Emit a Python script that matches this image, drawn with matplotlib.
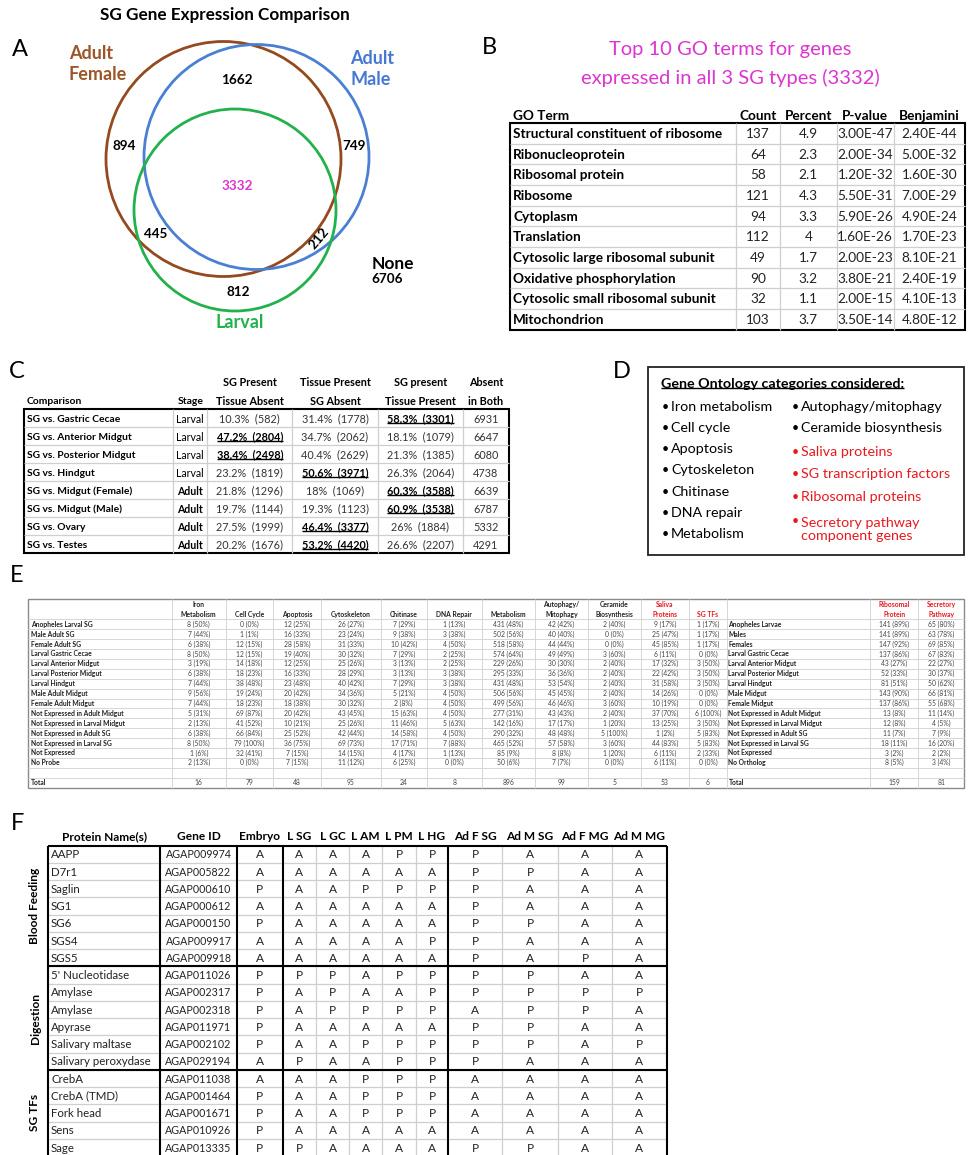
import matplotlib
matplotlib.use("Agg")
import matplotlib.pyplot as plt
from matplotlib.patches import Circle, Rectangle

plt.rcParams['font.family'] = ['Lato', 'DejaVu Sans']

# ---------------- data ----------------
# Panel A: Venn of genes expressed in salivary glands
venn_names = ["Adult\nFemale", "Adult\nMale", "Larval"]
venn_only_female = 894
venn_only_male = 749
venn_only_larval = 812
venn_female_male = 1662
venn_female_larval = 445
venn_male_larval = 212
venn_all = 3332
venn_none = 6706

# Panel B: GO terms
go_terms = ["Structural constituent of ribosome", "Ribonucleoprotein", "Ribosomal protein",
            "Ribosome", "Cytoplasm", "Translation", "Cytosolic large ribosomal subunit",
            "Oxidative phosphorylation", "Cytosolic small ribosomal subunit", "Mitochondrion"]
go_count = [137, 64, 58, 121, 94, 112, 49, 90, 32, 103]
go_percent = [4.9, 2.3, 2.1, 4.3, 3.3, 4, 1.7, 3.2, 1.1, 3.7]
go_pvalue = [3.0e-47, 2.0e-34, 1.2e-32, 5.5e-31, 5.9e-26, 1.6e-26, 2.0e-23, 3.8e-21, 2.0e-15, 3.5e-14]
go_benjamini = [2.4e-44, 5.0e-32, 1.6e-30, 7.0e-29, 4.9e-24, 1.7e-23, 8.1e-21, 2.4e-19, 4.1e-13, 4.8e-12]

# Panel C: tissue comparisons
cmp_names = ["SG vs. Gastric Cecae", "SG vs. Anterior Midgut", "SG vs. Posterior Midgut",
             "SG vs. Hindgut", "SG vs. Midgut (Female)", "SG vs. Midgut (Male)",
             "SG vs. Ovary", "SG vs. Testes"]
cmp_stage = ["Larval", "Larval", "Larval", "Larval", "Adult", "Adult", "Adult", "Adult"]
sg_only_pct = [10.3, 47.2, 38.4, 23.2, 21.8, 19.7, 27.5, 20.2]
sg_only_n = [582, 2804, 2498, 1819, 1296, 1144, 1999, 1676]
tissue_only_pct = [31.4, 34.7, 40.4, 50.6, 18, 19.3, 46.4, 53.2]
tissue_only_n = [1778, 2062, 2629, 3971, 1069, 1123, 3377, 4420]
both_pct = [58.3, 18.1, 21.3, 26.3, 60.3, 60.9, 26, 26.6]
both_n = [3301, 1079, 1385, 2064, 3588, 3538, 1884, 2207]
absent_both = [6931, 6647, 6080, 4738, 6639, 6787, 5332, 4291]
cmp_emphasis = [2, 0, 0, 1, 2, 2, 1, 1]

# Panel D: GO categories
go_cats_left = ["Iron metabolism", "Cell cycle", "Apoptosis", "Cytoskeleton",
                "Chitinase", "DNA repair", "Metabolism"]
go_cats_right = ["Autophagy/mitophagy", "Ceramide biosynthesis", "Saliva proteins",
                 "SG transcription factors", "Ribosomal proteins",
                 "Secretory pathway\ncomponent genes"]
go_cats_right_red = [False, False, True, True, True, True]

# Panel E: category counts (count, percent)
e_rows = ["Anopheles Larval SG", "Male Adult SG", "Female Adult SG", "Larval Gastric Cecae",
          "Larval Anterior Midgut", "Larval Posterior Midgut", "Larval Hindgut",
          "Male Adult Midgut", "Female Adult Midgut", "Not Expressed in Adult Midgut",
          "Not Expressed in Larval Midgut", "Not Expressed in Adult SG",
          "Not Expressed in Larval SG", "Not Expressed", "No Probe"]
e_rows2 = ["Anopheles Larvae", "Males", "Females", "Larval Gastric Cecae",
           "Larval Anterior Midgut", "Larval Posterior Midgut", "Larval Hindgut",
           "Male Midgut", "Female Midgut", "Not Expressed in Adult Midgut",
           "Not Expressed in Larval Midgut", "Not Expressed in Adult SG",
           "Not Expressed in Larval SG", "Not Expressed", "No Ortholog"]
iron = [(8, 50), (7, 44), (6, 38), (8, 50), (3, 19), (6, 38), (7, 44), (9, 56), (7, 44),
        (5, 31), (2, 13), (6, 38), (8, 50), (1, 6), (2, 13)]
cell_cycle = [(0, 0), (1, 1), (12, 15), (12, 15), (14, 18), (18, 23), (38, 48), (19, 24),
              (18, 23), (69, 87), (41, 52), (66, 84), (79, 100), (32, 41), (0, 0)]
apoptosis = [(12, 25), (16, 33), (28, 58), (19, 40), (12, 25), (16, 33), (23, 48), (20, 42),
             (18, 38), (20, 42), (10, 21), (25, 52), (36, 75), (7, 15), (7, 15)]
cytoskeleton = [(26, 27), (23, 24), (31, 33), (30, 32), (25, 26), (28, 29), (40, 42), (34, 36),
                (30, 32), (43, 45), (25, 26), (42, 44), (69, 73), (14, 15), (11, 12)]
chitinase = [(7, 29), (9, 38), (10, 42), (7, 29), (3, 13), (3, 13), (7, 29), (5, 21), (2, 8),
             (15, 63), (11, 46), (14, 58), (17, 71), (4, 17), (6, 25)]
dna_repair = [(1, 13), (3, 38), (4, 50), (2, 25), (2, 25), (3, 38), (3, 38), (4, 50), (4, 50),
              (4, 50), (5, 63), (4, 50), (7, 88), (1, 13), (0, 0)]
metabolism = [(431, 48), (502, 56), (518, 58), (574, 64), (229, 26), (295, 33), (431, 48),
              (506, 56), (499, 56), (277, 31), (142, 16), (290, 32), (465, 52), (85, 9), (50, 6)]
autophagy = [(42, 42), (40, 40), (44, 44), (49, 49), (30, 30), (36, 36), (53, 54), (45, 45),
             (46, 46), (43, 43), (17, 17), (48, 48), (57, 58), (8, 8), (7, 7)]
ceramide = [(2, 40), (0, 0), (0, 0), (3, 60), (2, 40), (2, 40), (2, 40), (2, 40), (3, 60),
            (2, 40), (1, 20), (5, 100), (3, 60), (1, 20), (0, 0)]
saliva = [(9, 17), (25, 47), (45, 85), (6, 11), (17, 32), (22, 42), (31, 58), (14, 26), (10, 19),
          (37, 70), (13, 25), (1, 2), (44, 83), (6, 11), (6, 11)]
sg_tfs = [(1, 17), (1, 17), (1, 17), (0, 0), (3, 50), (3, 50), (3, 50), (0, 0), (0, 0),
          (6, 100), (3, 50), (5, 83), (5, 83), (2, 33), (0, 0)]
ribosomal = [(141, 89), (141, 89), (147, 92), (137, 86), (43, 27), (52, 33), (81, 51), (143, 90),
             (137, 86), (13, 8), (12, 8), (11, 7), (18, 11), (3, 2), (8, 5)]
secretory = [(65, 80), (63, 78), (69, 85), (67, 83), (22, 27), (30, 37), (50, 62), (66, 81),
             (55, 68), (11, 14), (4, 5), (7, 9), (16, 20), (2, 2), (3, 4)]
e_totals_left = [16, 79, 48, 95, 24, 8, 896, 99, 5, 53, 6]
e_totals_right = [159, 81]
e_heads_left = ["Iron\nMetabolism", "Cell Cycle", "Apoptosis", "Cytoskeleton", "Chitinase",
                "DNA Repair", "Metabolism", "Autophagy/\nMitophagy", "Ceramide\nBiosynthesis",
                "Saliva\nProteins", "SG TFs"]
e_heads_right = ["Ribosomal\nProtein", "Secretory\nPathway"]

# Panel F: presence (P) / absence (A)
f_proteins = ["AAPP", "D7r1", "Saglin", "SG1", "SG6", "SGS4", "SGS5", "5' Nucleotidase",
              "Amylase", "Amylase", "Apyrase", "Salivary maltase", "Salivary peroxydase",
              "CrebA", "CrebA (TMD)", "Fork head", "Sens", "Sage"]
f_gene_ids = ["AGAP009974", "AGAP005822", "AGAP000610", "AGAP000612", "AGAP000150",
              "AGAP009917", "AGAP009918", "AGAP011026", "AGAP002317", "AGAP002318",
              "AGAP011971", "AGAP002102", "AGAP029194", "AGAP011038", "AGAP001464",
              "AGAP001671", "AGAP010926", "AGAP013335"]
f_groups = [("Blood Feeding", 7), ("Digestion", 6), ("SG TFs", 5)]
f_samples = ["Embryo", "L SG", "L GC", "L AM", "L PM", "L HG",
             "Ad F SG", "Ad M SG", "Ad F MG", "Ad M MG"]
f_embryo = "AAPAPAAPPPPPAAPPPP"
f_lsg = "AAAAAAAPAAAAPAAAAP"
f_lgc = "AAAAAAAPPPAAAAAAAA"
f_lam = "AAPAAAAAAPAPAPPPAA"
f_lpm = "PAPAAAAPAPAPPPPPAA"
f_lhg = "PAPAAPAPPPAPPPPPAA"
f_adfsg = "PPPPPPPPPAPPPAAAAP"
f_admsg = "APAAPAAPPPPPAAAAAP"
f_adfmg = "AAAAAAPAPPAAAAAAAA"
f_admmg = "AAAAAAAAPAAPAAAAAA"

# ---------------- canvas ----------------
W, H = 968, 1155
fig = plt.figure(figsize=(W / 100, H / 100), dpi=100)
ax = fig.add_axes([0, 0, 1, 1])
ax.set_xlim(0, W)
ax.set_ylim(H, 0)
ax.axis('off')

GRID = "#CFCFCF"
RED = "#E8191E"
MAGENTA = "#DD35CF"


def put(x, y, s, size, weight='normal', color='black', ha='center', va='center', **kw):
    return ax.text(x, y, s, fontsize=size, fontweight=weight, color=color,
                   ha=ha, va=va, **kw)


def underline(t, lw=1.0, pad=1.0):
    r = fig.canvas.get_renderer()
    bb = t.get_window_extent(r)
    inv = ax.transData.inverted()
    (x0, yb), (x1, _) = inv.transform([[bb.x0, bb.y0], [bb.x1, bb.y1]])
    ax.plot([x0, x1], [yb - pad, yb - pad], color=t.get_color(), lw=lw,
            solid_capstyle='butt')


def hline(y, x0, x1, color, lw):
    ax.plot([x0, x1], [y, y], color=color, lw=lw, solid_capstyle='butt')


def vline(x, y0, y1, color, lw):
    ax.plot([x, x], [y0, y1], color=color, lw=lw, solid_capstyle='butt')


def panel_letter(x, y, s):
    put(x, y, s, 17)


# ---------------- Panel A ----------------
panel_letter(20, 49, "A")
put(225, 15, "SG Gene Expression Comparison", 12.3, 'bold')
venn_colors = ["#94491E", "#4A7FD4", "#22B14C"]
venn_text_colors = ["#9B5528", "#4678D2", "#22B14C"]
circle_specs = [((223.5, 159), 117.5), ((256.5, 157), 112.5), ((235, 210), 101)]
for (c, r), col in zip(circle_specs, venn_colors):
    ax.add_patch(Circle(c, r, fill=False, ec=col, lw=2.0))
put(69, 64, venn_names[0], 13, 'bold', venn_text_colors[0], ha='left', linespacing=1.25)
put(350, 69, venn_names[1], 13, 'bold', venn_text_colors[1], ha='left', linespacing=1.25)
put(240, 323, venn_names[2], 13, 'bold', venn_text_colors[2])
VS = 9.7
put(237, 80, f"{venn_female_male}", VS, 'bold')
put(124, 146, f"{venn_only_female}", VS, 'bold')
put(354, 146, f"{venn_only_male}", VS, 'bold')
put(237, 186, f"{venn_all}", VS, 'bold', MAGENTA)
put(156, 234, f"{venn_female_larval}", VS, 'bold')
put(319, 238, f"{venn_male_larval}", VS, 'bold', rotation=50)
put(238, 292, f"{venn_only_larval}", VS, 'bold')
put(372, 264, "None", 12.5, 'bold', ha='left')
put(371, 279, f"{venn_none}", VS, 'bold', ha='left')

# ---------------- Panel B ----------------
panel_letter(489, 48, "B")
put(730, 49, "Top 10 GO terms for genes", 14.5, color=MAGENTA)
put(730, 78, f"expressed in all 3 SG types ({venn_all})", 14.5, color=MAGENTA)
b_edges = [510, 735.7, 780, 836.7, 894, 965]
b_top, b_rh = 123, 20.65
nb = len(go_terms)
b_bot = b_top + nb * b_rh
BS = 9.8
put(513, 115.5, "GO Term", BS, 'bold', ha='left')
for j, head in enumerate(["Count", "Percent", "P-value", "Benjamini"]):
    put((b_edges[j + 1] + b_edges[j + 2]) / 2, 115.5, head, BS, 'bold')
for i in range(1, nb):
    hline(b_top + i * b_rh, b_edges[0], b_edges[-1], GRID, 0.9)
for x in b_edges[1:-1]:
    vline(x, b_top, b_bot, GRID, 0.9)
ax.add_patch(Rectangle((b_edges[0], b_top), b_edges[-1] - b_edges[0], b_bot - b_top,
                       fill=False, ec='black', lw=1.5))
for i in range(nb):
    yc = b_top + (i + 0.5) * b_rh + 0.8
    put(513, yc, go_terms[i], BS, 'bold', ha='left')
    vals = [f"{go_count[i]}", f"{go_percent[i]:g}", f"{go_pvalue[i]:.2E}",
            f"{go_benjamini[i]:.2E}"]
    for j, v in enumerate(vals):
        put((b_edges[j + 1] + b_edges[j + 2]) / 2, yc, v, BS, color='#222222')

# ---------------- Panel C ----------------
panel_letter(17, 371, "C")
c_edges = [24.3, 173.3, 207.3, 292.3, 377.7, 462.7, 509]
c_top, c_rh = 409.3, 18.0
nc = len(cmp_names)
c_bot = c_top + nc * c_rh
CS = 7.8
put(27, 401.5, "Comparison", 7.5, 'bold', ha='left')
put(190.3, 401.5, "Stage", 7.5, 'bold')
c_heads = [("SG Present", "Tissue Absent"), ("Tissue Present", "SG Absent"),
           ("SG present", "Tissue Present"), ("Absent", "in Both")]
for j, (h1, h2) in enumerate(c_heads):
    xc = (c_edges[j + 2] + c_edges[j + 3]) / 2
    put(xc, 383, h1, CS, 'bold')
    put(xc, 401.5, h2, CS, 'bold')
for i in range(1, nc):
    hline(c_top + i * c_rh, c_edges[0], c_edges[-1], GRID, 0.9)
for x in c_edges[1:-1]:
    vline(x, c_top, c_bot, GRID, 0.9)
ax.add_patch(Rectangle((c_edges[0], c_top), c_edges[-1] - c_edges[0], c_bot - c_top,
                       fill=False, ec='black', lw=1.5))
for i in range(nc):
    yc = c_top + (i + 0.5) * c_rh + 0.8
    put(27, yc, cmp_names[i], 7.4, 'bold', ha='left')
    put((c_edges[1] + c_edges[2]) / 2, yc, cmp_stage[i], 7.6,
        'bold' if cmp_stage[i] == "Adult" else 'normal')
    cells = [(sg_only_pct[i], sg_only_n[i]), (tissue_only_pct[i], tissue_only_n[i]),
             (both_pct[i], both_n[i])]
    for j, (p, n) in enumerate(cells):
        xc = (c_edges[j + 2] + c_edges[j + 3]) / 2
        if cmp_emphasis[i] == j:
            t = put(xc, yc, f"{p:g}%  ({n})", CS, 'bold')
            underline(t, lw=1.0, pad=1.6)
        else:
            put(xc, yc, f"{p:g}%  ({n})", CS, color='#333333')
    put((c_edges[5] + c_edges[6]) / 2, yc, f"{absent_both[i]}", CS, color='#333333')

# ---------------- Panel D ----------------
panel_letter(622, 371, "D")
ax.add_patch(Rectangle((648.3, 367.3), 316, 187.7, fill=False, ec='#222222', lw=1.3))
t = put(661, 384, "Gene Ontology categories considered:", 10.3, 'bold', ha='left')
underline(t, lw=1.0, pad=2.2)
d_y0, d_dy = 406.7, 21.25
for i, s in enumerate(go_cats_left):
    y = d_y0 + i * d_dy
    put(662, y, "\u2022", 9, ha='left')
    put(671, y, s, 10.3, ha='left')
right_y = [406.7, 428.3, 451.7, 474.3, 496.7, 529.5]
for s, red, y in zip(go_cats_right, go_cats_right_red, right_y):
    col = RED if red else 'black'
    first_y = y - (8.8 if "\n" in s else 0)
    put(792, first_y, "\u2022", 9, color=col, ha='left')
    put(801, y, s, 10.3, color=col, ha='left', linespacing=1.05)

# ---------------- Panel E ----------------
panel_letter(17, 575, "E")
e_edges = [28.3, 171.7, 225.7, 273.3, 320.7, 380.7, 426.7, 481.7, 535, 587.7, 640.7,
           689.3, 726.7, 870, 918.3, 964]
e_top, e_head_bot, e_rh = 599, 619.3, 9.9
n_e = len(e_rows)
e_bot = e_head_bot + (n_e + 2) * e_rh
ES = 4.9
for i in range(n_e + 2):
    hline(e_head_bot + i * e_rh, e_edges[0], e_edges[-1], "#D6D6D6", 0.7)
for x in e_edges[1:-1]:
    vline(x, e_top, e_bot, "#D6D6D6", 0.7)
ax.add_patch(Rectangle((e_edges[0], e_top), e_edges[-1] - e_edges[0], e_bot - e_top,
                       fill=False, ec='#8A8A8A', lw=1.0))
left_cols = [iron, cell_cycle, apoptosis, cytoskeleton, chitinase, dna_repair, metabolism,
             autophagy, ceramide, saliva, sg_tfs]
right_cols = [ribosomal, secretory]
left_centers = [(e_edges[k + 1] + e_edges[k + 2]) / 2 for k in range(len(left_cols))]
right_centers = [(e_edges[13] + e_edges[14]) / 2, (e_edges[14] + e_edges[15]) / 2]


def e_header(x, s, red):
    col = RED if red else '#222222'
    if "\n" in s:
        a, b = s.split("\n")
        put(x, 604.5, a, ES, 'bold', col)
        put(x, 614.3, b, ES, 'bold', col)
    else:
        put(x, 614.3, s, ES, 'bold', col)


for k, (x, h) in enumerate(zip(left_centers, e_heads_left)):
    e_header(x, h, k >= 9)
for x, h in zip(right_centers, e_heads_right):
    e_header(x, h, True)
for i in range(n_e):
    yc = e_head_bot + (i + 0.5) * e_rh
    put(31, yc, e_rows[i], ES, 'bold', '#222222', ha='left')
    put(728.5, yc, e_rows2[i], ES, 'bold', '#222222', ha='left')
    for x, col in zip(left_centers, left_cols):
        n, p = col[i]
        put(x, yc, f"{n} ({p}%)", ES, color='#444444')
    for x, col in zip(right_centers, right_cols):
        n, p = col[i]
        put(x, yc, f"{n} ({p}%)", ES, color='#444444')
yt = e_head_bot + (n_e + 1.5) * e_rh
put(31, yt, "Total", ES, 'bold', '#222222', ha='left')
put(728.5, yt, "Total", ES, 'bold', '#222222', ha='left')
for x, v in zip(left_centers, e_totals_left):
    put(x, yt, f"{v}", ES, color='#444444')
for x, v in zip(right_centers, e_totals_right):
    put(x, yt, f"{v}", ES, color='#444444')

# ---------------- Panel F ----------------
panel_letter(18, 823, "F")
f_edges = [48.3, 160.3, 236.7, 282.7, 316, 349.3, 382.3, 415.7, 448.3, 501.7, 558.3,
           611.7, 666.7]
f_thick = {0, 1, 2, 3, 8, 12}
f_top, f_rh = 845.7, 17.24
n_f = len(f_proteins)
f_bot = f_top + n_f * f_rh
FS = 8.6
put((f_edges[0] + f_edges[1]) / 2, 837, "Protein Name(s)", FS, 'bold')
put((f_edges[1] + f_edges[2]) / 2, 837, "Gene ID", FS, 'bold')
for k, s in enumerate(f_samples):
    put((f_edges[k + 2] + f_edges[k + 3]) / 2, 837, s, FS, 'bold')
for i in range(1, n_f):
    hline(f_top + i * f_rh, f_edges[0], f_edges[-1], GRID, 0.9)
for k, x in enumerate(f_edges):
    if k not in f_thick:
        vline(x, f_top, f_bot, GRID, 0.9)
row = 0
for name, cnt in f_groups:
    y0 = f_top + row * f_rh
    y1 = f_top + (row + cnt) * f_rh
    put(35, (y0 + y1) / 2, name, FS, 'bold', rotation=90)
    hline(y0, f_edges[0], f_edges[-1], 'black', 1.5)
    row += cnt
hline(f_bot, f_edges[0], f_edges[-1], 'black', 1.5)
for k in f_thick:
    vline(f_edges[k], f_top, f_bot, 'black', 1.5)
f_cols = [f_embryo, f_lsg, f_lgc, f_lam, f_lpm, f_lhg, f_adfsg, f_admsg, f_adfmg, f_admmg]
for i in range(n_f):
    yc = f_top + (i + 0.5) * f_rh + 0.6
    put(51, yc, f_proteins[i], 8.3, color='#222222', ha='left')
    put((f_edges[1] + f_edges[2]) / 2, yc, f_gene_ids[i], 7.7, color='#222222')
    for k, col in enumerate(f_cols):
        put((f_edges[k + 2] + f_edges[k + 3]) / 2, yc, col[i], FS, color='#222222')

fig.savefig("out.png", dpi=100)
